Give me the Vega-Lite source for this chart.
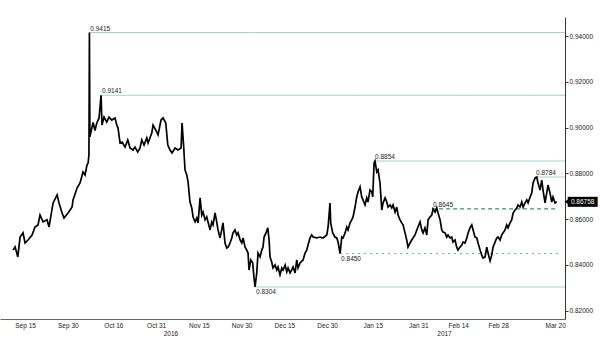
{
  "$schema": "https://vega.github.io/schema/vega-lite/v6.json",
  "width": 565,
  "height": 302,
  "autosize": {"type": "none"},
  "padding": {"left": 0, "top": 17, "right": 35, "bottom": 29},
  "background": "white",
  "config": {
    "view": {"stroke": null},
    "font": "Liberation Sans",
    "axis": {"labelFont": "Liberation Sans", "labelFontSize": 6.5, "labelColor": "#222", "grid": false, "title": null}
  },
  "datasets": {
    "price": [
      {"t":"2016-09-10T19:00","v":0.8465},{"t":"2016-09-11T12:00","v":0.8479},{"t":"2016-09-12T11:00","v":0.8435},
      {"t":"2016-09-13T06:00","v":0.8522},{"t":"2016-09-14T07:00","v":0.8540},{"t":"2016-09-15T00:00","v":0.8496},
      {"t":"2016-09-16T01:00","v":0.8509},{"t":"2016-09-17T11:00","v":0.8531},{"t":"2016-09-18T12:00","v":0.8566},
      {"t":"2016-09-19T13:00","v":0.8575},{"t":"2016-09-20T06:00","v":0.8618},{"t":"2016-09-21T08:00","v":0.8588},
      {"t":"2016-09-22T17:00","v":0.8597},{"t":"2016-09-23T10:00","v":0.8566},{"t":"2016-09-24T20:00","v":0.8671},
      {"t":"2016-09-26T06:00","v":0.8706},{"t":"2016-09-26T22:00","v":0.8671},{"t":"2016-09-28T00:00","v":0.8627},
      {"t":"2016-09-28T16:00","v":0.8605},{"t":"2016-09-30T02:00","v":0.8627},{"t":"2016-10-01T12:00","v":0.8653},
      {"t":"2016-10-01T20:00","v":0.8684},{"t":"2016-10-03T06:00","v":0.8736},{"t":"2016-10-04T07:00","v":0.8758},
      {"t":"2016-10-05T08:00","v":0.8806},{"t":"2016-10-06T01:00","v":0.8793},{"t":"2016-10-06T18:00","v":0.8837},
      {"t":"2016-10-07T03:00","v":0.8845},{"t":"2016-10-07T10:00","v":0.8880},{"t":"2016-10-07T14:00","v":0.9415},
      {"t":"2016-10-07T18:00","v":0.8960},{"t":"2016-10-08T10:00","v":0.8998},{"t":"2016-10-08T21:00","v":0.9022},
      {"t":"2016-10-09T13:00","v":0.8987},{"t":"2016-10-10T04:00","v":0.9020},{"t":"2016-10-10T23:00","v":0.9041},
      {"t":"2016-10-11T16:00","v":0.9141},{"t":"2016-10-12T00:00","v":0.9011},{"t":"2016-10-12T17:00","v":0.9046},
      {"t":"2016-10-13T16:00","v":0.9024},{"t":"2016-10-14T11:00","v":0.9046},{"t":"2016-10-15T10:00","v":0.9033},
      {"t":"2016-10-16T14:00","v":0.9042},{"t":"2016-10-17T04:00","v":0.9011},{"t":"2016-10-17T15:00","v":0.8998},
      {"t":"2016-10-18T08:00","v":0.8933},{"t":"2016-10-19T01:00","v":0.8937},{"t":"2016-10-20T02:00","v":0.8915},
      {"t":"2016-10-21T01:00","v":0.8946},{"t":"2016-10-21T20:00","v":0.8911},{"t":"2016-10-22T21:00","v":0.8902},
      {"t":"2016-10-23T14:00","v":0.8915},{"t":"2016-10-24T13:00","v":0.8893},{"t":"2016-10-25T08:00","v":0.8911},
      {"t":"2016-10-25T23:00","v":0.8946},{"t":"2016-10-26T18:00","v":0.8924},{"t":"2016-10-27T17:00","v":0.8955},
      {"t":"2016-10-28T04:00","v":0.8933},{"t":"2016-10-29T11:00","v":0.8976},{"t":"2016-10-29T22:00","v":0.9011},
      {"t":"2016-10-30T21:00","v":0.8989},{"t":"2016-10-31T16:00","v":0.8968},{"t":"2016-11-01T17:00","v":0.9033},
      {"t":"2016-11-02T10:00","v":0.9042},{"t":"2016-11-03T09:00","v":0.9020},{"t":"2016-11-04T02:00","v":0.8924},
      {"t":"2016-11-04T21:00","v":0.8902},{"t":"2016-11-05T14:00","v":0.8889},{"t":"2016-11-06T15:00","v":0.8911},
      {"t":"2016-11-07T16:00","v":0.8902},{"t":"2016-11-08T18:00","v":0.8911},{"t":"2016-11-09T02:00","v":0.9020},
      {"t":"2016-11-09T16:00","v":0.8915},{"t":"2016-11-10T03:00","v":0.8815},{"t":"2016-11-10T18:00","v":0.8793},
      {"t":"2016-11-11T05:00","v":0.8762},{"t":"2016-11-11T21:00","v":0.8675},{"t":"2016-11-12T12:00","v":0.8649},
      {"t":"2016-11-12T23:00","v":0.8609},{"t":"2016-11-13T16:00","v":0.8588},{"t":"2016-11-14T06:00","v":0.8605},
      {"t":"2016-11-14T17:00","v":0.8584},{"t":"2016-11-15T10:00","v":0.8693},{"t":"2016-11-16T00:00","v":0.8618},
      {"t":"2016-11-16T11:00","v":0.8631},{"t":"2016-11-17T04:00","v":0.8597},{"t":"2016-11-17T18:00","v":0.8610},
      {"t":"2016-11-18T05:00","v":0.8588},{"t":"2016-11-18T22:00","v":0.8553},{"t":"2016-11-19T12:00","v":0.8588},
      {"t":"2016-11-19T23:00","v":0.8575},{"t":"2016-11-20T16:00","v":0.8627},{"t":"2016-11-21T06:00","v":0.8588},
      {"t":"2016-11-21T17:00","v":0.8553},{"t":"2016-11-22T10:00","v":0.8518},{"t":"2016-11-23T00:00","v":0.8553},
      {"t":"2016-11-23T11:00","v":0.8584},{"t":"2016-11-24T04:00","v":0.8496},{"t":"2016-11-24T18:00","v":0.8474},
      {"t":"2016-11-25T06:00","v":0.8478},{"t":"2016-11-25T22:00","v":0.8496},{"t":"2016-11-26T13:00","v":0.8518},
      {"t":"2016-11-26T23:00","v":0.8540},{"t":"2016-11-27T16:00","v":0.8553},{"t":"2016-11-28T07:00","v":0.8531},
      {"t":"2016-11-28T18:00","v":0.8540},{"t":"2016-11-29T11:00","v":0.8509},{"t":"2016-11-30T01:00","v":0.8496},
      {"t":"2016-11-30T12:00","v":0.8518},{"t":"2016-12-01T05:00","v":0.8478},{"t":"2016-12-01T19:00","v":0.8465},
      {"t":"2016-12-02T06:00","v":0.8452},{"t":"2016-12-02T14:00","v":0.8378},{"t":"2016-12-03T05:00","v":0.8422},
      {"t":"2016-12-03T21:00","v":0.8409},{"t":"2016-12-04T08:00","v":0.8343},{"t":"2016-12-04T17:00","v":0.8304},
      {"t":"2016-12-05T07:00","v":0.8365},{"t":"2016-12-05T18:00","v":0.8452},{"t":"2016-12-06T11:00","v":0.8435},
      {"t":"2016-12-07T01:00","v":0.8465},{"t":"2016-12-07T12:00","v":0.8478},{"t":"2016-12-07T21:00","v":0.8522},
      {"t":"2016-12-08T13:00","v":0.8540},{"t":"2016-12-09T04:00","v":0.8562},{"t":"2016-12-09T15:00","v":0.8509},
      {"t":"2016-12-09T23:00","v":0.8435},{"t":"2016-12-10T13:00","v":0.8413},{"t":"2016-12-11T00:00","v":0.8387},
      {"t":"2016-12-11T17:00","v":0.8400},{"t":"2016-12-12T08:00","v":0.8378},{"t":"2016-12-12T18:00","v":0.8391},
      {"t":"2016-12-13T11:00","v":0.8357},{"t":"2016-12-14T02:00","v":0.8387},{"t":"2016-12-14T13:00","v":0.8378},
      {"t":"2016-12-15T06:00","v":0.8400},{"t":"2016-12-15T20:00","v":0.8370},{"t":"2016-12-16T07:00","v":0.8387},
      {"t":"2016-12-17T00:00","v":0.8365},{"t":"2016-12-18T01:00","v":0.8391},{"t":"2016-12-18T18:00","v":0.8365},
      {"t":"2016-12-19T08:00","v":0.8422},{"t":"2016-12-19T19:00","v":0.8387},{"t":"2016-12-20T12:00","v":0.8409},
      {"t":"2016-12-21T13:00","v":0.8422},{"t":"2016-12-22T06:00","v":0.8452},{"t":"2016-12-22T20:00","v":0.8465},
      {"t":"2016-12-23T07:00","v":0.8487},{"t":"2016-12-24T00:00","v":0.8518},{"t":"2016-12-24T14:00","v":0.8531},
      {"t":"2016-12-25T01:00","v":0.8522},{"t":"2016-12-26T08:00","v":0.8518},{"t":"2016-12-27T12:00","v":0.8522},
      {"t":"2016-12-28T13:00","v":0.8518},{"t":"2016-12-29T21:00","v":0.8531},{"t":"2016-12-30T08:00","v":0.8566},
      {"t":"2016-12-31T00:00","v":0.8670},{"t":"2016-12-31T06:00","v":0.8583},{"t":"2016-12-31T23:00","v":0.8540},
      {"t":"2017-01-01T18:00","v":0.8522},{"t":"2017-01-02T09:00","v":0.8518},{"t":"2017-01-02T20:00","v":0.8500},
      {"t":"2017-01-03T13:00","v":0.8450},{"t":"2017-01-04T03:00","v":0.8522},{"t":"2017-01-04T14:00","v":0.8518},
      {"t":"2017-01-05T07:00","v":0.8540},{"t":"2017-01-05T21:00","v":0.8566},{"t":"2017-01-06T08:00","v":0.8553},
      {"t":"2017-01-07T01:00","v":0.8584},{"t":"2017-01-07T15:00","v":0.8597},{"t":"2017-01-08T02:00","v":0.8610},
      {"t":"2017-01-08T19:00","v":0.8653},{"t":"2017-01-09T09:00","v":0.8697},{"t":"2017-01-09T20:00","v":0.8719},
      {"t":"2017-01-10T13:00","v":0.8741},{"t":"2017-01-11T03:00","v":0.8697},{"t":"2017-01-11T14:00","v":0.8684},
      {"t":"2017-01-12T07:00","v":0.8662},{"t":"2017-01-12T21:00","v":0.8693},{"t":"2017-01-13T08:00","v":0.8675},
      {"t":"2017-01-14T01:00","v":0.8727},{"t":"2017-01-14T16:00","v":0.8719},{"t":"2017-01-15T00:00","v":0.8697},
      {"t":"2017-01-15T11:00","v":0.8845},{"t":"2017-01-15T19:00","v":0.8854},{"t":"2017-01-16T10:00","v":0.8806},
      {"t":"2017-01-16T21:00","v":0.8815},{"t":"2017-01-17T13:00","v":0.8758},{"t":"2017-01-18T04:00","v":0.8640},
      {"t":"2017-01-18T15:00","v":0.8671},{"t":"2017-01-19T08:00","v":0.8693},{"t":"2017-01-19T22:00","v":0.8675},
      {"t":"2017-01-20T09:00","v":0.8653},{"t":"2017-01-21T02:00","v":0.8662},{"t":"2017-01-21T16:00","v":0.8649},
      {"t":"2017-01-22T03:00","v":0.8662},{"t":"2017-01-22T20:00","v":0.8631},{"t":"2017-01-23T10:00","v":0.8653},
      {"t":"2017-01-23T21:00","v":0.8618},{"t":"2017-01-24T14:00","v":0.8597},{"t":"2017-01-25T04:00","v":0.8584},
      {"t":"2017-01-25T15:00","v":0.8575},{"t":"2017-01-26T08:00","v":0.8540},{"t":"2017-01-26T22:00","v":0.8509},
      {"t":"2017-01-27T09:00","v":0.8478},{"t":"2017-01-28T02:00","v":0.8496},{"t":"2017-01-28T16:00","v":0.8509},
      {"t":"2017-01-29T03:00","v":0.8518},{"t":"2017-01-29T20:00","v":0.8531},{"t":"2017-01-30T11:00","v":0.8553},
      {"t":"2017-01-30T21:00","v":0.8566},{"t":"2017-01-31T14:00","v":0.8588},{"t":"2017-02-01T05:00","v":0.8553},
      {"t":"2017-02-01T16:00","v":0.8540},{"t":"2017-02-02T08:00","v":0.8562},{"t":"2017-02-02T23:00","v":0.8531},
      {"t":"2017-02-03T10:00","v":0.8597},{"t":"2017-02-04T03:00","v":0.8610},{"t":"2017-02-04T17:00","v":0.8618},
      {"t":"2017-02-05T04:00","v":0.8645},{"t":"2017-02-05T21:00","v":0.8631},{"t":"2017-02-06T11:00","v":0.8649},
      {"t":"2017-02-06T22:00","v":0.8627},{"t":"2017-02-07T15:00","v":0.8597},{"t":"2017-02-08T05:00","v":0.8553},
      {"t":"2017-02-08T16:00","v":0.8544},{"t":"2017-02-09T09:00","v":0.8540},{"t":"2017-02-09T23:00","v":0.8522},
      {"t":"2017-02-10T10:00","v":0.8531},{"t":"2017-02-11T03:00","v":0.8518},{"t":"2017-02-11T17:00","v":0.8522},
      {"t":"2017-02-12T04:00","v":0.8500},{"t":"2017-02-12T21:00","v":0.8509},{"t":"2017-02-13T11:00","v":0.8478},
      {"t":"2017-02-13T22:00","v":0.8465},{"t":"2017-02-14T15:00","v":0.8478},{"t":"2017-02-15T06:00","v":0.8487},
      {"t":"2017-02-15T16:00","v":0.8500},{"t":"2017-02-16T09:00","v":0.8496},{"t":"2017-02-17T00:00","v":0.8518},
      {"t":"2017-02-17T11:00","v":0.8540},{"t":"2017-02-18T03:00","v":0.8562},{"t":"2017-02-18T18:00","v":0.8575},
      {"t":"2017-02-19T05:00","v":0.8553},{"t":"2017-02-19T21:00","v":0.8522},{"t":"2017-02-20T12:00","v":0.8518},
      {"t":"2017-02-20T23:00","v":0.8496},{"t":"2017-02-21T16:00","v":0.8465},{"t":"2017-02-22T06:00","v":0.8443},
      {"t":"2017-02-22T17:00","v":0.8430},{"t":"2017-02-23T10:00","v":0.8435},{"t":"2017-02-24T00:00","v":0.8478},
      {"t":"2017-02-24T11:00","v":0.8452},{"t":"2017-02-25T04:00","v":0.8418},{"t":"2017-02-25T18:00","v":0.8443},
      {"t":"2017-02-26T05:00","v":0.8478},{"t":"2017-02-26T22:00","v":0.8500},{"t":"2017-02-27T12:00","v":0.8518},
      {"t":"2017-02-27T23:00","v":0.8522},{"t":"2017-02-28T16:00","v":0.8509},{"t":"2017-03-01T06:00","v":0.8531},
      {"t":"2017-03-01T17:00","v":0.8540},{"t":"2017-03-02T10:00","v":0.8553},{"t":"2017-03-03T00:00","v":0.8575},
      {"t":"2017-03-03T11:00","v":0.8562},{"t":"2017-03-04T04:00","v":0.8584},{"t":"2017-03-04T18:00","v":0.8597},
      {"t":"2017-03-05T06:00","v":0.8627},{"t":"2017-03-05T22:00","v":0.8640},{"t":"2017-03-06T13:00","v":0.8649},
      {"t":"2017-03-06T23:00","v":0.8662},{"t":"2017-03-07T16:00","v":0.8653},{"t":"2017-03-08T07:00","v":0.8675},
      {"t":"2017-03-08T18:00","v":0.8653},{"t":"2017-03-09T11:00","v":0.8671},{"t":"2017-03-10T01:00","v":0.8684},
      {"t":"2017-03-10T12:00","v":0.8671},{"t":"2017-03-11T05:00","v":0.8697},{"t":"2017-03-11T19:00","v":0.8714},
      {"t":"2017-03-12T06:00","v":0.8758},{"t":"2017-03-12T23:00","v":0.8780},{"t":"2017-03-13T13:00","v":0.8784},
      {"t":"2017-03-14T00:00","v":0.8758},{"t":"2017-03-14T17:00","v":0.8727},{"t":"2017-03-15T07:00","v":0.8771},
      {"t":"2017-03-15T18:00","v":0.8727},{"t":"2017-03-16T11:00","v":0.8671},{"t":"2017-03-17T01:00","v":0.8714},
      {"t":"2017-03-17T12:00","v":0.8749},{"t":"2017-03-18T05:00","v":0.8714},{"t":"2017-03-18T19:00","v":0.8675},
      {"t":"2017-03-19T06:00","v":0.8697},{"t":"2017-03-19T23:00","v":0.8671},{"t":"2017-03-20T13:00","v":0.86758}
    ],
    "levels": [
      {"t":"2016-10-07T13:00","t2":"2017-03-23T11:00","v":0.9415,"label":"0.9415","kind":"high"},
      {"t":"2016-10-11T16:00","t2":"2017-03-23T11:00","v":0.9141,"label":"0.9141","kind":"high"},
      {"t":"2017-01-15T11:00","t2":"2017-03-23T11:00","v":0.8854,"label":"0.8854","kind":"high"},
      {"t":"2017-03-12T23:00","t2":"2017-03-23T11:00","v":0.8784,"label":"0.8784","kind":"high"},
      {"t":"2017-02-04T20:00","t2":"2017-03-20T17:00","v":0.8645,"label":"0.8645","kind":"pivot high"},
      {"t":"2017-01-03T13:00","t2":"2017-03-21T17:00","v":0.8450,"label":"0.8450","kind":"pivot low"},
      {"t":"2016-12-04T17:00","t2":"2017-03-23T11:00","v":0.8304,"label":"0.8304","kind":"low"}
    ],
    "last": [
      {"t":"2017-03-20T13:00","v":0.86758,"label":"0.86758"}
    ]
  },
  "resolve": {"axis": {"x": "independent", "y": "independent"}},
  "layer": [
    {
      "data": {"name": "levels"},
      "mark": {"type": "rule"},
      "encoding": {
        "x": {"field": "t", "type": "temporal",
          "scale": {"domain": [{"year":2016,"month":9,"date":6,"hours":5},{"year":2017,"month":3,"date":23,"hours":11}]},
          "axis": {"orient": "bottom", "values": [{"year":2016,"month":11,"date":5},{"year":2017,"month":2,"date":9}], "format": "%Y", "domain": false, "ticks": false, "labelPadding": 0, "offset": 11}},
        "x2": {"field": "t2"},
        "y": {"field": "v", "type": "quantitative", "scale": {"domain": [0.8164, 0.9483], "nice": false, "zero": false}, "axis": null},
        "color": {"field": "kind", "type": "nominal", "legend": null,
          "scale": {"domain": ["high", "low", "pivot high", "pivot low"], "range": ["#9bd8c2", "#9bd8c2", "#2f9c63", "#4fc08d"]}},
        "strokeDash": {"field": "kind", "type": "nominal", "legend": null,
          "scale": {"domain": ["high", "low", "pivot high", "pivot low"], "range": [[1, 0], [1, 0], [4, 3], [2, 4]]}},
        "strokeWidth": {"field": "kind", "type": "nominal", "legend": null,
          "scale": {"domain": ["high", "low", "pivot high", "pivot low"], "range": [1.1, 1.1, 1.1, 1.5]}}
      }
    },
    {
      "data": {"name": "levels"},
      "transform": [{"filter": "datum.kind === 'high' || datum.kind === 'pivot high'"}],
      "mark": {"type": "text", "align": "left", "baseline": "bottom", "dy": -1, "dx": 1, "fontSize": 6.5, "color": "#222"},
      "encoding": {
        "x": {"field": "t", "type": "temporal", "axis": null},
        "y": {"field": "v", "type": "quantitative", "axis": null},
        "text": {"field": "label"}
      }
    },
    {
      "data": {"name": "levels"},
      "transform": [{"filter": "datum.kind === 'low' || datum.kind === 'pivot low'"}],
      "mark": {"type": "text", "align": "left", "baseline": "top", "dy": 2, "dx": 1, "fontSize": 6.5, "color": "#222"},
      "encoding": {
        "x": {"field": "t", "type": "temporal", "axis": null},
        "y": {"field": "v", "type": "quantitative", "axis": null},
        "text": {"field": "label"}
      }
    },
    {
      "data": {"name": "price"},
      "mark": {"type": "line", "color": "#000", "strokeWidth": 1.7, "strokeJoin": "miter"},
      "encoding": {
        "x": {"field": "t", "type": "temporal",
          "axis": {"orient": "bottom", "format": "%b %d", "ticks": false, "domainColor": "#666", "labelPadding": 3,
            "values": [{"year":2016,"month":9,"date":15},{"year":2016,"month":9,"date":30},{"year":2016,"month":10,"date":16},{"year":2016,"month":10,"date":31},{"year":2016,"month":11,"date":15},{"year":2016,"month":11,"date":30},{"year":2016,"month":12,"date":15},{"year":2016,"month":12,"date":30},{"year":2017,"month":1,"date":15},{"year":2017,"month":1,"date":31},{"year":2017,"month":2,"date":14},{"year":2017,"month":2,"date":28},{"year":2017,"month":3,"date":20}]}},
        "y": {"field": "v", "type": "quantitative",
          "axis": {"orient": "right", "values": [0.82, 0.84, 0.86, 0.88, 0.90, 0.92, 0.94], "format": ".5f", "domainColor": "#333", "tickColor": "#333", "tickSize": 3, "labelPadding": 1}}
      }
    },
    {
      "data": {"name": "last"},
      "mark": {"type": "rect", "color": "#000", "xOffset": 11, "x2Offset": 41, "yOffset": -5, "y2Offset": 5},
      "encoding": {
        "x": {"field": "t", "type": "temporal", "axis": null},
        "x2": {"field": "t"},
        "y": {"field": "v", "type": "quantitative", "axis": null},
        "y2": {"field": "v"}
      }
    },
    {
      "data": {"name": "last"},
      "mark": {"type": "point", "shape": "triangle-left", "filled": true, "color": "#000", "size": 30, "xOffset": 10, "opacity": 1},
      "encoding": {
        "x": {"field": "t", "type": "temporal", "axis": null},
        "y": {"field": "v", "type": "quantitative", "axis": null}
      }
    },
    {
      "data": {"name": "last"},
      "mark": {"type": "text", "color": "#fff", "fontSize": 6.5, "align": "center", "baseline": "middle", "dx": 26},
      "encoding": {
        "x": {"field": "t", "type": "temporal", "axis": null},
        "y": {"field": "v", "type": "quantitative", "axis": null},
        "text": {"field": "label"}
      }
    }
  ]
}
